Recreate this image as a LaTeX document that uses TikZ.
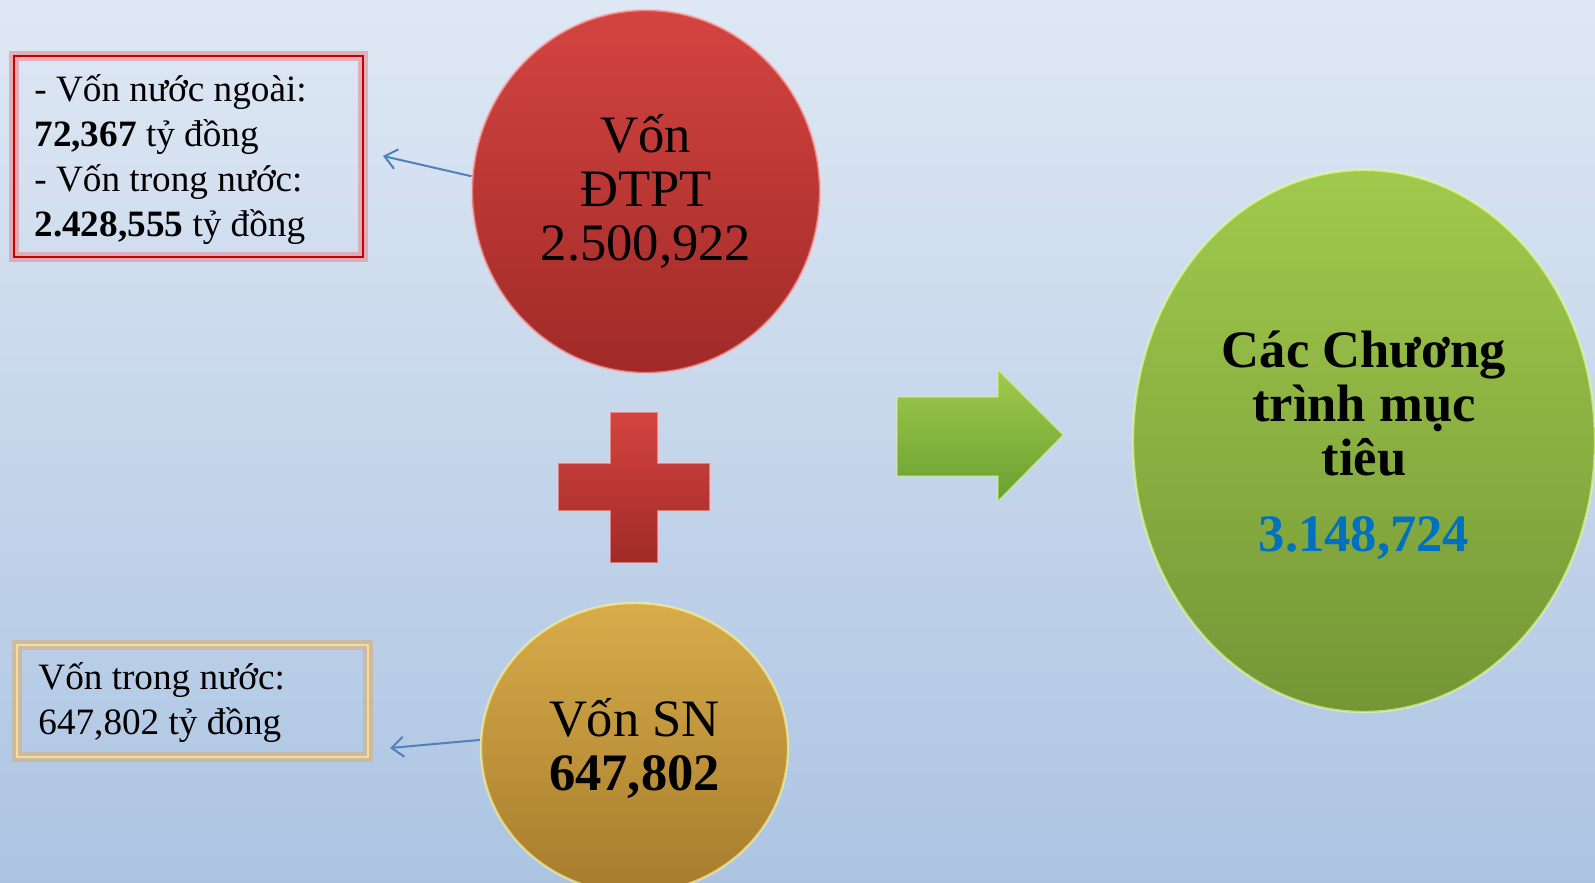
\documentclass[tikz,border=0pt]{standalone}
\usepackage{fontspec}
\setmainfont{Liberation Serif}
\usetikzlibrary{shapes.geometric,arrows.meta}
\definecolor{bgtop}{RGB}{223,232,244}
\definecolor{bgbot}{RGB}{172,196,226}
\definecolor{redtop}{RGB}{212,68,64}
\definecolor{redbot}{RGB}{160,42,40}
\definecolor{goldtop}{RGB}{216,172,74}
\definecolor{goldbot}{RGB}{166,124,44}
\definecolor{greentop}{RGB}{160,202,76}
\definecolor{greenbot}{RGB}{116,150,54}
\definecolor{connblue}{RGB}{79,129,189}
\definecolor{numblue}{RGB}{0,112,192}
\definecolor{boxred}{RGB}{200,0,0}
\definecolor{glowred}{RGB}{230,140,150}
\definecolor{boxgold}{RGB}{250,222,140}
\definecolor{glowgold}{RGB}{214,176,126}
\begin{document}
\begin{tikzpicture}[x=0.5pt,y=-0.5pt,
  ball/.style={ellipse, inner sep=0pt, align=center, text=black},
  redball/.style={ball, top color=redtop, bottom color=redbot, draw=red!30!white, draw opacity=0.6, line width=1.2pt},
  goldball/.style={ball, top color=goldtop, bottom color=goldbot, draw=yellow!40!white, draw opacity=0.6, line width=1.2pt},
  greenball/.style={ball, top color=greentop, bottom color=greenbot, draw=green!20!yellow!40!white, draw opacity=0.6, line width=1.2pt},
  bigtext/.style={font=\fontsize{26.3}{27}\selectfont},
  boxtext/.style={font=\fontsize{18.6}{22.5}\selectfont, align=left, anchor=west, inner sep=0pt},
  conn/.style={draw=connblue, line width=1pt, -{Straight Barb[length=6pt,width=10pt,line width=1pt]}},
  redbox/.style={draw=boxred, line width=1.2pt, preaction={draw=glowred, line width=5pt, draw opacity=0.6}, inner sep=0pt},
  goldbox/.style={draw=boxgold, line width=1.2pt, preaction={draw=glowgold, line width=5pt, draw opacity=0.6}, inner sep=0pt}
]
\shade[top color=bgtop,bottom color=bgbot] (0,0) rectangle (1595,883);
\useasboundingbox (0,0) rectangle (1595,883);
\clip (0,0) rectangle (1595,883);

% red box
\node[redbox, minimum width=174.5pt, minimum height=100.5pt] (rbox) at (188.5,156.5) {};
\node[boxtext] (rtext) at (34,160)
 {- Vốn nước ngoài:\\ \textbf{72,367} tỷ đồng\\ - Vốn trong nước:\\ \textbf{2.428,555} tỷ đồng};

% gold box
\node[goldbox, minimum width=175.5pt, minimum height=56pt] (gbox) at (192.5,701) {};
\node[boxtext] (gtext) at (38,703)
 {Vốn trong nước:\\ 647,802 tỷ đồng};

% circles
\node[redball, bigtext, minimum width=174pt, minimum height=181.5pt] (red) at (646,191.5)
 {Vốn\\ ĐTPT\\ 2.500,922};
\node[goldball, minimum width=153.5pt, minimum height=145pt] (gold) at (634.5,748) {};
\node[bigtext, align=center, inner sep=0pt] (goldlbl) at (634.5,749)
 {Vốn SN\\ \textbf{647,802}};
\node[greenball, bigtext, minimum width=231pt, minimum height=271pt] (green) at (1364,441)
 {\\[-4pt]\textbf{Các Chương}\\ \textbf{trình mục}\\ \textbf{tiêu}\\[11pt] \textcolor{numblue}{\textbf{3.148,724}}};

% connectors
\coordinate (rtip) at (383,156);
\coordinate (gtip) at (390,748);
\draw[conn] (red.175) -- (rtip);
\draw[conn] (gold.177) -- (gtip);

% plus sign
\shade[top color=redtop, bottom color=redbot, draw=red!20!white, draw opacity=0.5, line width=0.6pt]
 (610,412) -- (658,412) -- (658,463) -- (710,463) -- (710,511) -- (658,511) -- (658,563)
 -- (610,563) -- (610,511) -- (558,511) -- (558,463) -- (610,463) -- cycle;

% green arrow
\shade[top color=greentop, bottom color=greenbot!90!green, draw=green!15!yellow!50!white, draw opacity=0.5, line width=0.6pt]
 (897,397) -- (998,397) -- (998,370) -- (1063,435) -- (998,501) -- (998,476) -- (897,476) -- cycle;
\end{tikzpicture}
\end{document}
